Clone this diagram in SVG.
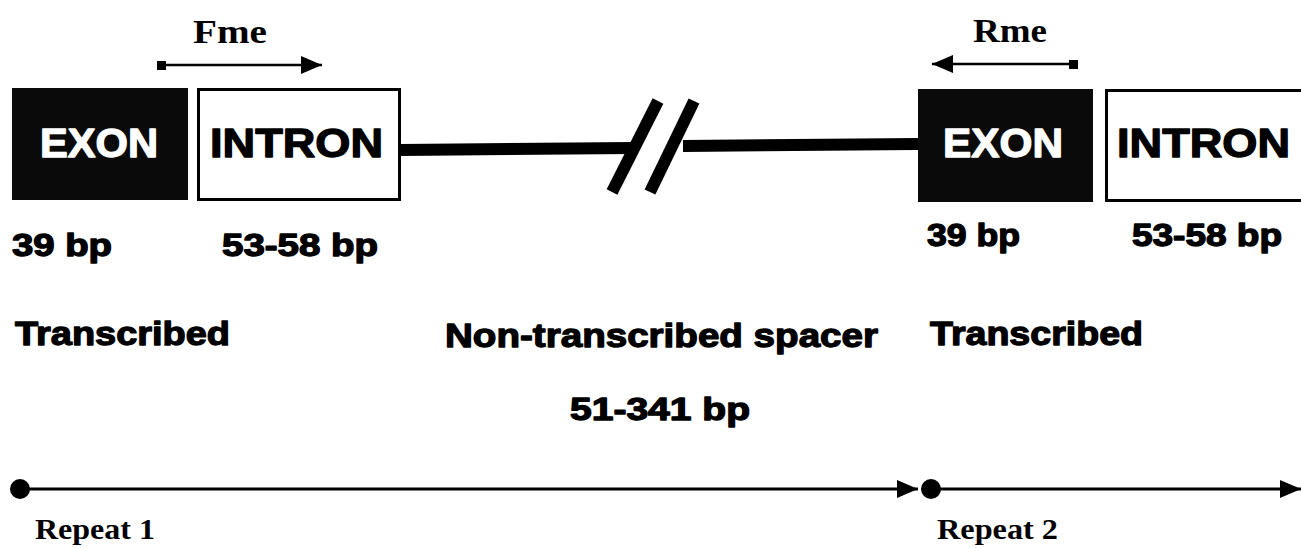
<svg xmlns="http://www.w3.org/2000/svg" width="1301" height="548" viewBox="0 0 1301 548">
<style>
.sans{font-family:"Liberation Sans",Arial,sans-serif;font-weight:bold;fill:#000;stroke:#000;stroke-width:1.3;stroke-linejoin:round}
.inv{fill:#fff;stroke:#fff}
.serif{font-family:"Liberation Serif","Times New Roman",serif;font-weight:bold;fill:#000}
.exon{fill:#0a0a0a}
.intron{fill:#fff;stroke:#000;stroke-width:3}
.thick{stroke:#000;stroke-width:12;fill:none}
.thin{stroke:#000;stroke-width:3;fill:none}
.primer{stroke:#000;stroke-width:2.5;fill:none}
</style>
<defs>
<marker id="ahBig" viewBox="0 0 10 10" refX="10" refY="5" markerWidth="21" markerHeight="18" markerUnits="userSpaceOnUse" orient="auto" preserveAspectRatio="none">
<path d="M0,0 L10,5 L0,10 z" fill="#000"/>
</marker>
</defs>
<rect width="1301" height="548" fill="#fff"/>

<g id="connectors">
<line class="thick" x1="400" y1="150" x2="633" y2="148"/>
<line class="thick" x1="683" y1="146" x2="918" y2="144"/>
<line class="thick" x1="658" y1="101" x2="612" y2="192"/>
<line class="thick" x1="694" y1="101" x2="650" y2="192"/>
<line class="primer" x1="162" y1="65" x2="322" y2="65" marker-end="url(#ahBig)"/>
<rect x="157" y="61" width="9" height="9" fill="#000"/>
<line class="primer" x1="1074" y1="64" x2="932" y2="64" marker-end="url(#ahBig)"/>
<rect x="1069" y="60" width="9" height="9" fill="#000"/>
<line class="thin" x1="20" y1="489" x2="918" y2="489" marker-end="url(#ahBig)"/>
<circle cx="20" cy="489" r="10" fill="#000"/>
<line class="thin" x1="931" y1="489" x2="1301" y2="489" marker-end="url(#ahBig)"/>
<circle cx="931" cy="489" r="10" fill="#000"/>
</g>

<g id="exon1">
<rect class="exon" x="12" y="88" width="176" height="112"/>
<text class="sans inv" x="40" y="157" font-size="41" textLength="118" lengthAdjust="spacingAndGlyphs">EXON</text>
</g>
<g id="intron1">
<rect class="intron" x="198.5" y="89.5" width="201" height="110"/>
<text class="sans" x="210" y="157" font-size="41" textLength="173" lengthAdjust="spacingAndGlyphs">INTRON</text>
</g>
<g id="exon2">
<rect class="exon" x="918" y="89" width="175" height="113"/>
<text class="sans inv" x="943" y="157" font-size="41" textLength="120" lengthAdjust="spacingAndGlyphs">EXON</text>
</g>
<g id="intron2">
<rect class="intron" x="1106.5" y="90.5" width="210" height="110"/>
<text class="sans" x="1117" y="157" font-size="41" textLength="173" lengthAdjust="spacingAndGlyphs">INTRON</text>
</g>

<g id="primer-labels">
<text class="serif" x="193" y="43" font-size="33" textLength="74" lengthAdjust="spacingAndGlyphs">Fme</text>
<text class="serif" x="973" y="42" font-size="33" textLength="74" lengthAdjust="spacingAndGlyphs">Rme</text>
</g>

<g id="size-labels">
<text class="sans" x="12" y="256" font-size="31" textLength="100" lengthAdjust="spacingAndGlyphs">39 bp</text>
<text class="sans" x="222" y="256" font-size="31" textLength="156" lengthAdjust="spacingAndGlyphs">53-58  bp</text>
<text class="sans" x="927" y="246" font-size="31" textLength="93" lengthAdjust="spacingAndGlyphs">39 bp</text>
<text class="sans" x="1132" y="246" font-size="31" textLength="150" lengthAdjust="spacingAndGlyphs">53-58  bp</text>
</g>

<g id="region-labels">
<text class="sans" x="15" y="345" font-size="34" textLength="215" lengthAdjust="spacingAndGlyphs">Transcribed</text>
<text class="sans" x="445" y="347" font-size="34" textLength="433" lengthAdjust="spacingAndGlyphs">Non-transcribed spacer</text>
<text class="sans" x="930" y="345" font-size="34" textLength="213" lengthAdjust="spacingAndGlyphs">Transcribed</text>
<text class="sans" x="570" y="420" font-size="31" textLength="180" lengthAdjust="spacingAndGlyphs">51-341 bp</text>
</g>

<g id="repeat-labels">
<text class="serif" x="35" y="539" font-size="30" textLength="120" lengthAdjust="spacingAndGlyphs">Repeat 1</text>
<text class="serif" x="937" y="539" font-size="30" textLength="121" lengthAdjust="spacingAndGlyphs">Repeat 2</text>
</g>
</svg>
